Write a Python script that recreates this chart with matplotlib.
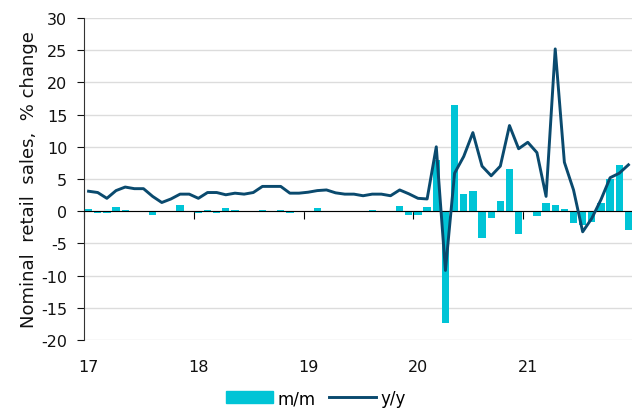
import numpy as np
import matplotlib
matplotlib.use('Agg')
import matplotlib.pyplot as plt
from matplotlib.patches import Patch
from matplotlib.lines import Line2D

plt.rcParams['axes.unicode_minus'] = False

# monthly data Jan 2017 - Dec 2021
mm = [0.3, -0.3, -0.3, 0.7, 0.2, 0.0, 0.0, -0.55, 0.0, 0.0, 1.0, 0.0,
      -0.3, 0.2, -0.35, 0.5, 0.2, 0.0, 0.0, 0.2, 0.0, 0.2, -0.3, 0.0,
      0.0, 0.5, 0.0, 0.0, 0.0, 0.0, 0.0, 0.2, 0.0, 0.0, 0.8, -0.6,
      -0.6, 0.6, 8.0, -17.3, 16.5, 2.7, 3.2, -4.1, -1.0, 1.6, 6.6, -3.5,
      0.0, -0.8, 1.3, 1.0, 0.4, -1.9, -2.1, -1.7, 1.3, 5.0, 7.2, -2.9]
yy = [3.1, 2.9, 2.0, 3.2, 3.75, 3.5, 3.5, 2.3, 1.35, 1.9, 2.65, 2.65,
      2.0, 2.9, 2.9, 2.55, 2.8, 2.65, 2.9, 3.85, 3.85, 3.85, 2.8, 2.8,
      2.95, 3.2, 3.3, 2.85, 2.65, 2.65, 2.4, 2.65, 2.65, 2.4, 3.3, 2.7,
      2.0, 1.9, 10.0, -9.2, 5.9, 8.5, 12.2, 7.0, 5.5, 7.0, 13.3, 9.7,
      10.7, 9.1, 2.3, 25.2, 7.6, 3.3, -3.2, -1.1, 1.8, 5.2, 5.9, 7.2]
years = ['17', '18', '19', '20', '21']

cyan = '#00C4D6'
navy = '#0A4A6E'

fig = plt.figure(figsize=(6.32, 4.14), dpi=100)
ax = fig.add_axes([84 / 632, 1 - 341 / 414, 1 - 84 / 632, (341 - 19) / 414])

x = np.arange(len(mm)) + 0.5
ax.bar(x, mm, width=0.8, color=cyan, zorder=2)
ax.plot(x, yy, color=navy, lw=2.1, zorder=3)

ax.set_ylim(-20, 30)
ax.set_yticks(np.arange(-20, 31, 5))
ax.set_xlim(0, (632 - 84) / 9.15)
ax.grid(axis='y', color='#dcdcdc', lw=1, zorder=0)
ax.set_axisbelow(True)

for s in ['top', 'right']:
    ax.spines[s].set_visible(False)
ax.spines['left'].set_color('#333333')
ax.spines['bottom'].set_position(('data', 0))
ax.spines['bottom'].set_color('black')

ax.set_xticks(np.arange(0, 60, 12))
ax.tick_params(axis='x', direction='out', length=6, labelbottom=False, color='black')
ax.tick_params(axis='y', direction='out', length=5, labelsize=11.5, colors='#111111', pad=7)

# year labels at the bottom of the plot
sec = ax.secondary_xaxis('bottom')
sec.set_xticks(np.arange(0, 60, 12) + 0.5, years)
sec.tick_params(length=0, labelsize=11.5, pad=14, colors='#111111')
sec.spines['bottom'].set_visible(False)

ax.set_ylabel('Nominal  retail  sales,  % change', fontsize=13, color='#111111', labelpad=2)

handles = [Patch(color=cyan, label='m/m'), Line2D([], [], color=navy, lw=2.1, label='y/y')]
fig.legend(handles=handles, loc='lower center', bbox_to_anchor=(0.5, -0.022), ncol=2,
           frameon=False, fontsize=12, handlelength=2.8, columnspacing=0.8, handletextpad=0.3)

fig.savefig('out.png', dpi=100)
